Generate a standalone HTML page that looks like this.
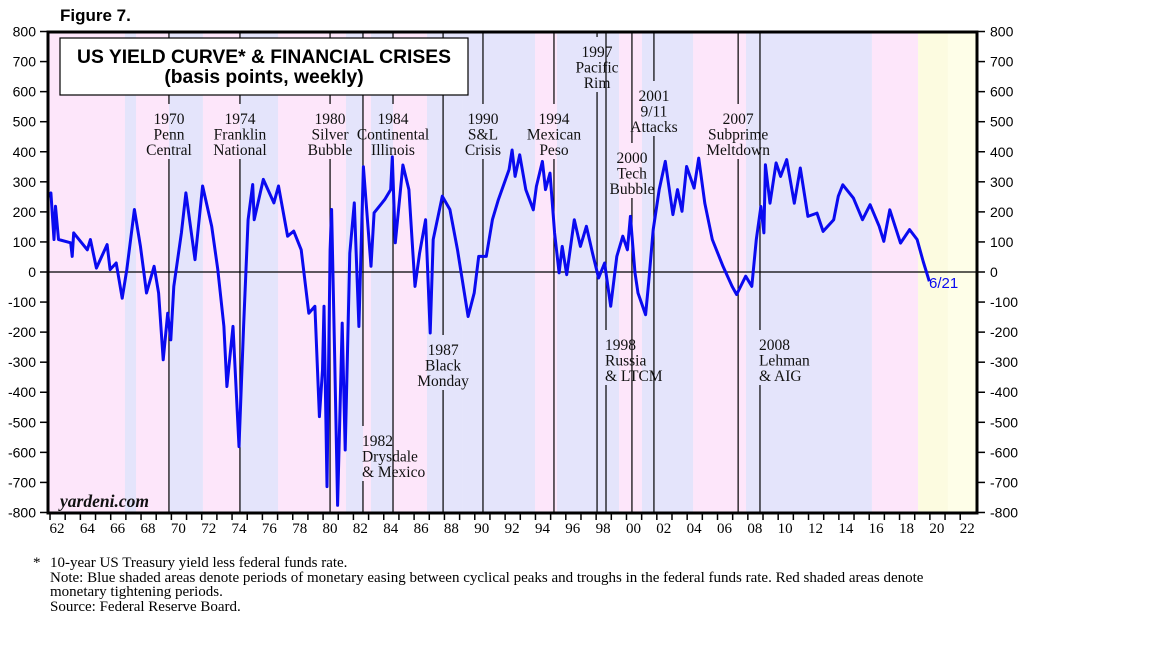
<!DOCTYPE html>
<html><head><meta charset="utf-8">
<style>
body{margin:0;background:#fff;width:1152px;height:648px;overflow:hidden;font-family:"Liberation Serif",serif;}
svg{position:absolute;left:0;top:0}
</style></head>
<body>
<svg id="c" width="1152" height="648" xmlns="http://www.w3.org/2000/svg"></svg>
<script>
// data: [year, basis points]
const years = [1961.45,1961.6,1961.8,1961.9,1962.1,1962.9,1963.0,1963.1,1964.0,1964.2,1964.6,1965.3,1965.5,1965.9,1966.3,1966.6,1967.1,1967.5,1967.7,1967.9,1968.4,1968.7,1969.0,1969.3,1969.5,1969.7,1970.2,1970.5,1971.1,1971.6,1972.2,1972.6,1973.0,1973.2,1973.6,1974.0,1974.3,1974.6,1974.9,1975.0,1975.6,1976.3,1976.6,1977.2,1977.6,1978.1,1978.6,1979.0,1979.3,1979.5,1979.6,1979.8,1980.0,1980.1,1980.3,1980.5,1980.8,1981.0,1981.3,1981.6,1981.9,1982.2,1982.7,1982.9,1983.6,1984.0,1984.1,1984.3,1984.8,1985.2,1985.6,1985.9,1986.3,1986.6,1986.8,1987.4,1987.9,1988.4,1989.1,1989.5,1989.8,1990.3,1990.7,1991.1,1991.8,1992.0,1992.2,1992.5,1992.9,1993.4,1993.6,1994.0,1994.2,1994.5,1994.8,1995.1,1995.3,1995.6,1996.1,1996.5,1996.9,1997.3,1997.7,1998.1,1998.5,1998.9,1999.3,1999.6,1999.8,2000.1,2000.3,2000.8,2001.0,2001.3,2001.7,2002.1,2002.6,2002.9,2003.2,2003.5,2004.0,2004.3,2004.7,2005.2,2005.9,2006.5,2006.8,2007.4,2007.8,2008.1,2008.4,2008.6,2008.7,2009.0,2009.4,2009.7,2010.1,2010.6,2011.0,2011.5,2012.1,2012.5,2013.2,2013.5,2013.8,2014.5,2015.1,2015.6,2016.2,2016.5,2016.9,2017.6,2018.2,2018.7,2019.1,2019.5];
const values = [250,263,108,219,108,97,52,130,74,108,13,91,8,30,-87,8,208,86,8,-70,19,-70,-292,-137,-226,-48,130,263,41,286,152,8,-181,-381,-181,-581,-181,174,291,174,308,230,286,119,136,74,-137,-114,-481,-326,-114,-714,74,208,-270,-776,-170,-592,63,230,-181,350,19,197,241,274,383,97,356,274,-48,63,174,-203,108,252,208,74,-148,-70,52,52,174,241,341,406,318,390,274,207,285,368,274,329,130,-3,85,-9,174,85,152,63,-20,30,-114,52,119,74,185,-3,-70,-142,-37,141,274,368,191,274,202,351,279,379,229,108,19,-48,-75,-14,-48,108,218,130,357,229,363,318,374,229,346,185,196,135,174,252,290,246,174,224,152,102,207,96,141,108,35,-31];
const yTicks = [800,700,600,500,400,300,200,100,0,-100,-200,-300,-400,-500,-600,-700,-800];
const xTickLabels = ["62","64","66","68","70","72","74","76","78","80","82","84","86","88","90","92","94","96","98","00","02","04","06","08","10","12","14","16","18","20","22"];
const pinkBands = [[1961.41,1966.48],[1967.21,1969.38],[1971.62,1974.06],[1976.57,1981.05],[1982.17,1982.70],[1984.15,1986.39],[1993.51,1994.96],[1999.05,2000.56],[2003.93,2007.42],[2015.72,2018.76]];
const blueBands = [[1966.48,1967.21],[1969.38,1971.62],[1974.06,1976.57],[1981.05,1982.17],[1982.70,1984.15],[1986.39,1988.76],[1988.76,1993.51],[1994.96,1999.05],[2000.56,2003.93],[2007.42,2015.72]];
const events = [
 {yr:1969.38,t:["1970","Penn","Central"],y:119,anchor:"middle"},
 {yr:1974.06,t:["1974","Franklin","National"],y:119,anchor:"middle"},
 {yr:1980.0,t:["1980","Silver","Bubble"],y:119,anchor:"middle"},
 {yr:1982.17,t:["1982","Drysdale","& Mexico"],y:441,anchor:"start"},
 {yr:1984.15,t:["1984","Continental","Illinois"],y:119,anchor:"middle"},
 {yr:1987.45,t:["1987","Black","Monday"],y:350,anchor:"middle"},
 {yr:1990.08,t:["1990","S&L","Crisis"],y:119,anchor:"middle"},
 {yr:1994.76,t:["1994","Mexican","Peso"],y:119,anchor:"middle"},
 {yr:1997.6,t:["1997","Pacific","Rim"],y:52,anchor:"middle"},
 {yr:1998.19,t:["1998","Russia","& LTCM"],y:345,anchor:"start"},
 {yr:1999.9,t:["2000","Tech","Bubble"],y:158,anchor:"middle"},
 {yr:2001.35,t:["2001","9/11","Attacks"],y:96,anchor:"middle"},
 {yr:2006.9,t:["2007","Subprime","Meltdown"],y:119,anchor:"middle"},
 {yr:2008.34,t:["2008","Lehman","& AIG"],y:345,anchor:"start"}
];

const NS="http://www.w3.org/2000/svg";
const svg=document.getElementById('c');
const L=48,R=977,T=32,B=513;
function X(yr){return 57+(yr-1962)*15.17;}
function Y(v){return 272-v*0.3006;}
function mk(tag,attrs,parent){const e=document.createElementNS(NS,tag);for(const k in attrs)e.setAttribute(k,attrs[k]);(parent||svg).appendChild(e);return e;}

mk('rect',{x:L,y:T,width:R-L,height:B-T,fill:'#fff'});
pinkBands.forEach(b=>{const r=mk('rect',{x:X(b[0]),y:T,width:X(b[1])-X(b[0]),height:B-T,fill:'#fde6fa'});

});
blueBands.forEach(b=>{const r=mk('rect',{x:X(b[0]),y:T,width:X(b[1])-X(b[0]),height:B-T,fill:'#e4e4fb'});

});
let yb=mk('rect',{x:X(2018.76),y:T,width:X(2020.73)-X(2018.76),height:B-T,fill:'#fcfbe0'});


yb=mk('rect',{x:X(2020.73),y:T,width:R-X(2020.73),height:B-T,fill:'#fefee8'});



let z=mk('line',{x1:L,x2:R,y1:Y(0),y2:Y(0),stroke:'#000','stroke-width':1.2});



events.forEach(ev=>{
  const x=X(ev.yr);
  const top=ev.y-15, bot=ev.y+2*15.5+9;
  const g=mk('g',{});
  
  
  mk('line',{x1:x,x2:x,y1:T,y2:top,stroke:'#000','stroke-width':1.2},g);
  mk('line',{x1:x,x2:x,y1:bot,y2:B,stroke:'#000','stroke-width':1.2},g);
  const tx = ev.anchor==='start'? x-1 : x;
  ev.t.forEach((s,i)=>{const t=mk('text',{x:tx,y:ev.y+i*15.5+5,'text-anchor':ev.anchor,'font-size':15.5,'font-family':'"Liberation Serif",serif',fill:'#111'},g);t.textContent=s;});
});

let d='';
years.forEach((yr,i)=>{d+=(i?'L':'M')+X(yr).toFixed(1)+','+Y(values[i]).toFixed(1);});
let p=mk('path',{d:d,fill:'none',stroke:'#0a0af0','stroke-width':3,'stroke-linejoin':'round'});


let lbl=mk('text',{x:929,y:288,'font-size':15,'font-family':'"Liberation Sans",sans-serif',fill:'#0a0af0'});
lbl.textContent='6/21';



const tb=mk('g',{});


mk('rect',{x:60,y:38,width:408,height:57,fill:'#fff',stroke:'#000','stroke-width':1.2},tb);
let t1=mk('text',{x:264,y:63,'text-anchor':'middle','font-size':19.3,'font-weight':'bold','font-family':'"Liberation Sans",sans-serif'},tb);t1.textContent='US YIELD CURVE* & FINANCIAL CRISES';
let t2=mk('text',{x:264,y:83,'text-anchor':'middle','font-size':19.3,'font-weight':'bold','font-family':'"Liberation Sans",sans-serif'},tb);t2.textContent='(basis points, weekly)';

let yd=mk('text',{x:60,y:507,'font-size':17.5,'font-style':'italic','font-weight':'bold','font-family':'"Liberation Serif",serif',fill:'#111'});
yd.textContent='yardeni.com';



let fr=mk('rect',{x:L,y:T,width:R-L,height:B-T,fill:'none',stroke:'#000','stroke-width':3});



yTicks.forEach(v=>{
  const y=Y(v);
  mk('line',{x1:L-8,x2:L,y1:y,y2:y,stroke:'#000','stroke-width':1.5});
  mk('line',{x1:R,x2:R+8,y1:y,y2:y,stroke:'#000','stroke-width':1.5});
  const a=mk('text',{x:36,y:y+5,'text-anchor':'end','font-size':14,'font-family':'"Liberation Sans",sans-serif'});a.textContent=v;
  
  
  const b=mk('text',{x:990,y:y+5,'text-anchor':'start','font-size':14,'font-family':'"Liberation Sans",sans-serif'});b.textContent=v;
  
  
});
for(let yr=1962;yr<=2022;yr++){const x=X(yr-0.46);mk('line',{x1:x,x2:x,y1:B,y2:B+7,stroke:'#000','stroke-width':1.5});}
xTickLabels.forEach((s,i)=>{const t=mk('text',{x:X(1962+2*i),y:533,'text-anchor':'middle','font-size':15,'font-family':'"Liberation Serif",serif'});t.textContent=s;

});

let fig=mk('text',{x:60,y:21,'font-size':17,'font-weight':'bold','font-family':'"Liberation Sans",sans-serif'});
fig.textContent='Figure 7.';



const notes=[['*',33,567],['10-year US Treasury yield less federal funds rate.',50,567],['Note: Blue shaded areas denote periods of monetary easing between cyclical peaks and troughs in the federal funds rate. Red shaded areas denote',50,582],['monetary tightening periods.',50,596],['Source: Federal Reserve Board.',50,611]];
const ng=mk('g',{});


notes.forEach(n=>{const t=mk('text',{x:n[1],y:n[2],'font-size':15,'font-family':'"Liberation Serif",serif'},ng);t.textContent=n[0];});
</script>
</body></html>
